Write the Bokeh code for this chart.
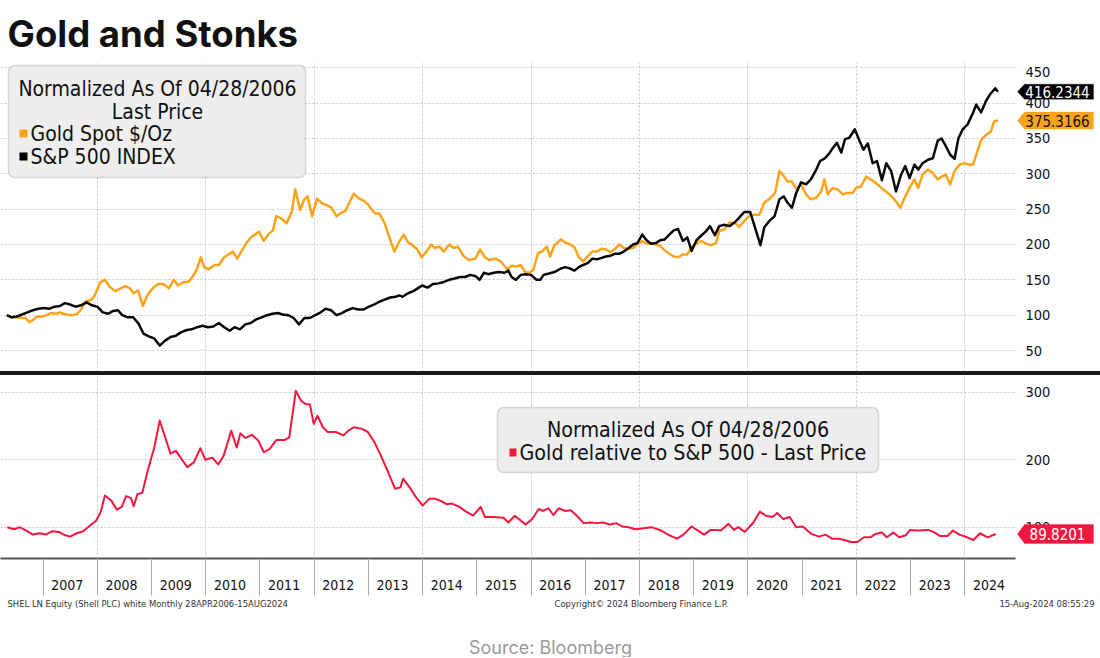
from bokeh.plotting import figure
from bokeh.models import (FixedTicker, Label, BoxAnnotation, PolyAnnotation, Range1d,
                          CustomJSTickFormatter, Spacer)
from bokeh.layouts import column
from bokeh.embed import file_html
from bokeh.resources import INLINE

# ---------------- data (normalized 04/28/2006 = 100) ----------------
gold_t = [2006.33, 2006.42, 2006.51, 2006.61, 2006.68, 2006.74, 2006.81, 2006.88, 2006.98, 2007.07,
          2007.14, 2007.24, 2007.31, 2007.37, 2007.44, 2007.54, 2007.63, 2007.70, 2007.79, 2007.87,
          2007.94, 2008.05, 2008.14, 2008.23, 2008.33, 2008.43, 2008.52, 2008.60, 2008.67, 2008.75,
          2008.84, 2008.92, 2009.02, 2009.12, 2009.22, 2009.32, 2009.41, 2009.49, 2009.59, 2009.68,
          2009.78, 2009.83, 2009.91, 2009.97, 2010.05, 2010.16, 2010.24, 2010.34, 2010.44, 2010.50,
          2010.58, 2010.67, 2010.75, 2010.83, 2010.91, 2010.98, 2011.07, 2011.16, 2011.24, 2011.30,
          2011.39, 2011.49, 2011.59, 2011.65, 2011.74, 2011.81, 2011.88, 2011.96, 2012.05, 2012.15,
          2012.25, 2012.31, 2012.41, 2012.48, 2012.58, 2012.64, 2012.73, 2012.81, 2012.91, 2013.00,
          2013.12, 2013.20, 2013.30, 2013.40, 2013.48, 2013.56, 2013.65, 2013.73, 2013.80, 2013.90,
          2013.98, 2014.07, 2014.16, 2014.22, 2014.31, 2014.39, 2014.49, 2014.57, 2014.65, 2014.75,
          2014.85, 2014.97, 2015.06, 2015.15, 2015.23, 2015.34, 2015.44, 2015.56, 2015.64, 2015.74,
          2015.81, 2015.89, 2015.97, 2016.04, 2016.13, 2016.20, 2016.29, 2016.35, 2016.43, 2016.55,
          2016.63, 2016.72, 2016.80, 2016.88, 2016.96, 2017.05, 2017.13, 2017.21, 2017.30, 2017.38,
          2017.46, 2017.55, 2017.63, 2017.71, 2017.80, 2017.88, 2017.96, 2018.05, 2018.13, 2018.21,
          2018.30, 2018.38, 2018.46, 2018.55, 2018.63, 2018.71, 2018.80, 2018.88, 2018.96, 2019.05,
          2019.13, 2019.23, 2019.32, 2019.41, 2019.47, 2019.56, 2019.66, 2019.75, 2019.84, 2019.93,
          2020.03, 2020.12, 2020.21, 2020.30, 2020.42, 2020.50, 2020.58, 2020.64, 2020.73, 2020.81,
          2020.89, 2020.98, 2021.07, 2021.16, 2021.26, 2021.35, 2021.41, 2021.47, 2021.56, 2021.65,
          2021.75, 2021.84, 2021.93, 2021.99, 2022.08, 2022.18, 2022.27, 2022.36, 2022.49, 2022.61,
          2022.70, 2022.81, 2022.90, 2022.98, 2023.07, 2023.14, 2023.22, 2023.32, 2023.41, 2023.50,
          2023.57, 2023.65, 2023.73, 2023.81, 2023.90, 2023.99, 2024.08, 2024.15, 2024.24, 2024.30,
          2024.39, 2024.48, 2024.54, 2024.61]
gold_v = [100, 97, 97, 96, 96, 90, 93, 98, 98, 100,
          103, 102, 104, 102, 101, 100, 102, 108, 120, 121,
          126, 146, 150, 140, 134, 138, 141, 138, 131, 135,
          113, 128, 138, 144, 144, 138, 150, 142, 147, 147,
          157, 164, 182, 168, 165, 171, 171, 182, 187, 190,
          180, 192, 202, 210, 214, 218, 205, 215, 220, 240,
          237, 230, 247, 278, 249, 263, 268, 240, 265, 258,
          255, 253, 240, 244, 248, 258, 272, 266, 262, 256,
          244, 244, 230, 207, 190, 203, 214, 203, 200, 193,
          182, 190, 200, 195, 197, 190, 200, 195, 197, 184,
          178, 180, 193, 182, 178, 180, 176, 165, 170, 169,
          171, 161, 160, 164, 188, 190, 197, 183, 199, 207,
          203, 200, 196, 182, 176, 184, 190, 190, 194, 193,
          189, 194, 200, 195, 194, 195, 200, 205, 201, 202,
          200, 198, 192, 187, 183, 182, 186, 186, 196, 201,
          205, 201, 199, 202, 219, 221, 231, 231, 225, 233,
          241, 242, 242, 259, 266, 273, 304, 299, 289, 289,
          279, 285, 271, 264, 266, 275, 292, 271, 280, 278,
          271, 273, 273, 280, 282, 296, 292, 287, 278, 271,
          264, 252, 268, 280, 292, 280, 299, 306, 301, 292,
          296, 299, 285, 304, 313, 315, 313, 313, 334, 348,
          355, 360, 374, 375.3166]

spx_t = [2006.33, 2006.42, 2006.51, 2006.61, 2006.71, 2006.81, 2006.91, 2007.01, 2007.11, 2007.21,
         2007.31, 2007.40, 2007.50, 2007.60, 2007.70, 2007.80, 2007.90, 2008.00, 2008.10, 2008.20,
         2008.29, 2008.38, 2008.46, 2008.56, 2008.66, 2008.76, 2008.85, 2008.95, 2009.05, 2009.15,
         2009.25, 2009.35, 2009.45, 2009.55, 2009.65, 2009.74, 2009.84, 2009.94, 2010.04, 2010.14,
         2010.24, 2010.34, 2010.44, 2010.53, 2010.63, 2010.73, 2010.83, 2010.93, 2011.03, 2011.13,
         2011.23, 2011.33, 2011.42, 2011.52, 2011.62, 2011.72, 2011.82, 2011.92, 2012.02, 2012.12,
         2012.21, 2012.31, 2012.41, 2012.51, 2012.61, 2012.71, 2012.81, 2012.91, 2013.01, 2013.10,
         2013.20, 2013.30, 2013.40, 2013.50, 2013.57, 2013.63, 2013.73, 2013.83, 2013.93, 2013.99,
         2014.09, 2014.19, 2014.29, 2014.39, 2014.49, 2014.59, 2014.69, 2014.78, 2014.88, 2014.98,
         2015.05, 2015.13, 2015.21, 2015.31, 2015.41, 2015.51, 2015.58, 2015.64, 2015.72, 2015.81,
         2015.90, 2016.00, 2016.10, 2016.17, 2016.23, 2016.33, 2016.43, 2016.55,
         2016.63, 2016.72, 2016.80, 2016.88, 2016.96, 2017.05, 2017.13, 2017.21, 2017.30, 2017.38,
         2017.46, 2017.55, 2017.63, 2017.71, 2017.80, 2017.88, 2017.96, 2018.05, 2018.13, 2018.21,
         2018.30, 2018.38, 2018.46, 2018.55, 2018.63, 2018.71, 2018.80, 2018.88, 2018.96, 2019.05,
         2019.13, 2019.23, 2019.30, 2019.39, 2019.47, 2019.56, 2019.66, 2019.75, 2019.84, 2019.93,
         2020.04, 2020.13, 2020.23, 2020.30, 2020.39, 2020.49, 2020.58, 2020.66, 2020.73, 2020.81,
         2020.89, 2020.98, 2021.07, 2021.16, 2021.26, 2021.33, 2021.42, 2021.50, 2021.56, 2021.64,
         2021.72, 2021.79, 2021.87, 2021.97, 2022.05, 2022.13, 2022.21, 2022.30, 2022.38, 2022.47,
         2022.55, 2022.64, 2022.73, 2022.82, 2022.90, 2022.98, 2023.07, 2023.14, 2023.22, 2023.32,
         2023.41, 2023.50, 2023.57, 2023.65, 2023.73, 2023.81, 2023.88, 2023.96, 2024.05, 2024.15,
         2024.21, 2024.30, 2024.39, 2024.47, 2024.56, 2024.61]
spx_v = [100, 97, 98, 101, 104, 107, 109, 110, 109, 112,
         113, 117, 115, 112, 114, 118, 114, 112, 104, 102,
         106, 107, 100, 97, 97, 88, 74, 70, 67, 57,
         64, 69, 71, 76, 79, 80, 83, 85, 83, 84,
         89, 83, 78, 83, 80, 87, 89, 94, 97, 100,
         102, 103, 101, 100, 96, 87, 96, 96, 100, 104,
         109, 107, 100, 103, 107, 110, 108, 108, 112, 115,
         119, 122, 125, 126, 128, 126, 131, 134, 139, 142,
         139, 144, 145, 147, 150, 152, 154, 154, 157, 155,
         150, 160, 158, 160, 161, 160, 163, 154, 150, 157,
         158, 157, 150, 150, 157, 159, 161, 166,
         168, 166, 163, 168, 171, 174, 180, 179, 181, 183,
         184, 187, 187, 190, 195, 200, 202, 214, 206, 201,
         202, 206, 207, 214, 220, 222, 205, 210, 191, 206,
         212, 219, 226, 213, 226, 228, 226, 231, 238, 246,
         246, 224, 199, 224, 233, 240, 264, 268, 259, 252,
         273, 288, 285, 292, 306, 318, 322, 329, 336, 344,
         330, 349, 351, 363, 348, 334, 343, 315, 318, 291,
         315, 304, 275, 298, 311, 294, 313, 306, 315, 320,
         322, 347, 350, 339, 327, 321, 350, 363, 370, 386,
         398, 387, 403, 413, 421, 416.2344]

ratio_t = [2006.34, 2006.46, 2006.57, 2006.69, 2006.81, 2006.93, 2007.05, 2007.17, 2007.29, 2007.41,
           2007.50, 2007.62, 2007.74, 2007.86, 2007.98, 2008.06, 2008.14, 2008.26, 2008.36, 2008.45,
           2008.53, 2008.62, 2008.67, 2008.74, 2008.83, 2008.93, 2009.05, 2009.15, 2009.26, 2009.35,
           2009.45, 2009.57, 2009.66, 2009.78, 2009.90, 2009.99, 2010.12, 2010.23, 2010.33, 2010.47,
           2010.57, 2010.64, 2010.73, 2010.85, 2010.97, 2011.07, 2011.18, 2011.30, 2011.45, 2011.54,
           2011.66, 2011.76, 2011.85, 2011.92, 2011.99, 2012.06, 2012.16, 2012.25, 2012.40, 2012.54,
           2012.63, 2012.73, 2012.87, 2012.99, 2013.11, 2013.23, 2013.35, 2013.49, 2013.59, 2013.64,
           2013.76, 2013.88, 2014.00, 2014.12, 2014.24, 2014.36, 2014.44, 2014.54, 2014.68, 2014.80,
           2014.93, 2015.07, 2015.15, 2015.31, 2015.49, 2015.58, 2015.70, 2015.82, 2015.90, 2016.02,
           2016.14, 2016.22, 2016.32, 2016.41, 2016.51, 2016.63, 2016.73, 2016.83, 2016.97, 2017.09,
           2017.21, 2017.33, 2017.45, 2017.57, 2017.68, 2017.80, 2017.92, 2018.04, 2018.22, 2018.40,
           2018.55, 2018.69, 2018.81, 2018.96, 2019.08, 2019.19, 2019.31, 2019.41, 2019.50, 2019.64,
           2019.74, 2019.82, 2019.94, 2020.10, 2020.22, 2020.33, 2020.45, 2020.54, 2020.65, 2020.77,
           2020.89, 2021.01, 2021.17, 2021.31, 2021.43, 2021.55, 2021.67, 2021.78, 2021.90, 2022.02,
           2022.14, 2022.26, 2022.35, 2022.47, 2022.56, 2022.68, 2022.79, 2022.91, 2022.99, 2023.15,
           2023.32, 2023.42, 2023.54, 2023.68, 2023.78, 2023.90, 2024.04, 2024.16, 2024.28, 2024.42,
           2024.57]
ratio_v = [100, 97, 100, 95, 89, 91, 89, 94, 93, 88,
           86, 91, 94, 102, 110, 122, 147, 139, 126, 130,
           146, 143, 131, 149, 151, 184, 218, 258, 231, 209,
           213, 199, 189, 196, 217, 200, 203, 193, 206, 243,
           218, 239, 232, 237, 228, 211, 216, 229, 229, 233,
           302, 287, 282, 282, 253, 265, 248, 241, 241, 236,
           243, 248, 246, 241, 226, 206, 184, 157, 159, 172,
           159, 144, 132, 142, 142, 138, 134, 135, 130, 123,
           117, 130, 115, 115, 114, 107, 117, 109, 104, 112,
           127, 124, 128, 118, 128, 124, 125, 118, 106, 107,
           106, 107, 104, 106, 101, 100, 97, 98, 100, 95,
           88, 83, 89, 101, 95, 89, 96, 96, 95, 105,
           96, 100, 93, 107, 123, 117, 115, 121, 112, 115,
           100, 101, 90, 86, 89, 83, 83, 81, 78, 78,
           85, 85, 90, 92, 85, 92, 85, 88, 96, 95,
           96, 93, 87, 87, 95, 89, 85, 81, 91, 85,
           89.8201]

year_labels = list(range(2007, 2025))          # x-axis year labels
top_ticks = [50, 100, 150, 200, 250, 300, 350, 400, 450]
bot_ticks = [100, 200, 300]
last_spx, last_gold, last_ratio = "416.2344", "375.3166", "89.8201"

# ---------------- styling / layout constants ----------------
W = 1100
FONT = "DejaVu Sans Condensed"
GOLD = "#FBA31C"
RED = "#F2173F"
GRID = "#c6c6c6"
PX_PER_YEAR = 54.22
X0 = 2006.214
X1 = X0 + W / PX_PER_YEAR
CHART_RIGHT = 1015        # pixel where gridlines / axis line stop
LABEL_X = 1025            # pixel where right-hand tick labels start
YEAR_LABEL_POS = 0.445    # year labels sit just left of mid-year

def bare(height, y_range, x_range=None, **kw):
    p = figure(width=W, height=height, output_backend="svg", toolbar_location=None,
               x_range=x_range if x_range is not None else Range1d(X0, X1),
               y_range=y_range, x_axis_location=kw.pop("x_axis_location", None),
               y_axis_location=None, min_border_left=0, min_border_right=0,
               min_border_top=0, min_border_bottom=kw.pop("min_border_bottom", 0))
    p.outline_line_color = None
    p.background_fill_color = "white"
    p.border_fill_color = "white"
    p.xgrid.visible = False
    p.ygrid.visible = False
    return p

def txt(p, x, y, s, align="left", size="21px", color="#111111", font=FONT,
        baseline="middle", y_units="screen", style="normal", y_offset=0):
    p.add_layout(Label(x=x, y=y, x_units="screen", y_units=y_units, text=s, text_font=font,
                       text_font_size=size, text_color=color, text_align=align,
                       text_baseline=baseline, text_font_style=style, y_offset=y_offset))

def box(p, l, r, b, t, fill, line=None, lw=1.5, radius=0, level="annotation"):
    p.add_layout(BoxAnnotation(left=l, right=r, bottom=b, top=t, left_units="screen",
                               right_units="screen", bottom_units="screen", top_units="screen",
                               fill_color=fill, fill_alpha=1, line_color=line, line_width=lw,
                               border_radius=radius, level=level))

def grids(p, yticks):
    p.xgrid.visible = True
    p.ygrid.visible = True
    p.xgrid.ticker = FixedTicker(ticks=list(range(2008, 2025, 2)))
    p.ygrid.ticker = FixedTicker(ticks=yticks)
    for g in (p.xgrid, p.ygrid):
        g.grid_line_color = GRID
        g.grid_line_dash = "2 2"
        g.grid_line_width = 1
    # keep the grid inside the chart area (the right strip holds labels and tags)
    box(p, CHART_RIGHT + 1, W, -5, 400, "white", level="underlay")

def ytick_labels(p, ticks, top_nudge=0):
    for t in ticks:
        txt(p, LABEL_X, t, str(t), size="14.5px", y_units="data",
            y_offset=(top_nudge if t == ticks[-1] else 0))

def tag(p, val, label, bg, fg, half_px, px_per_unit):
    dh = half_px / px_per_unit
    p.add_layout(PolyAnnotation(xs=[1017, 1024, 1093, 1093, 1024],
                                ys=[val, val + dh, val + dh, val - dh, val - dh],
                                xs_units="screen", ys_units="data",
                                fill_color=bg, fill_alpha=1, line_color=bg, line_width=1))
    p.add_layout(Label(x=1057, y=val, x_units="screen", y_units="data", text=label,
                       text_font=FONT, text_font_size="15px", text_color=fg,
                       text_align="center", text_baseline="middle"))

# ---------------- title strip ----------------
head = bare(62, Range1d(0, 1))
txt(head, 7, 29, "Gold and Stonks", size="36.5px", font="Inter", style="bold",
    baseline="alphabetic")

# ---------------- top panel ----------------
TOP_Y0, TOP_Y1 = 20.3, 457.5
top = bare(309, Range1d(TOP_Y0, TOP_Y1))
grids(top, top_ticks)
top.line(gold_t, gold_v, line_color=GOLD, line_width=2.5, line_join="round")
top.line(spx_t, spx_v, line_color="#0a0a0a", line_width=2.5, line_join="round")
ytick_labels(top, top_ticks, top_nudge=-4)

box(top, 8, 305, 194, 306, "#eeeeee", line="#8c8c8c", radius=6)
txt(top, 157, 283, "Normalized As Of 04/28/2006", align="center")
txt(top, 157, 260, "Last Price", align="center")
box(top, 19, 27, 234, 242, GOLD)
txt(top, 30, 238, "Gold Spot $/Oz")
box(top, 19, 27, 211, 219, "#000000")
txt(top, 30, 215, "S&P 500 INDEX")

top_ppu = 309 / (TOP_Y1 - TOP_Y0)
tag(top, spx_v[-1], last_spx, "#000000", "white", 7.5, top_ppu)
tag(top, gold_v[-1], last_gold, GOLD, "#111111", 8.5, top_ppu)

# ---------------- separator ----------------
bar = Spacer(width=W, height=4, styles={"background-color": "#1a1a1a"})

# ---------------- bottom panel ----------------
BOT_Y0, BOT_Y1 = 53.6, 324.7
bot = bare(223, Range1d(BOT_Y0, BOT_Y1), x_range=top.x_range,
           x_axis_location="below", min_border_bottom=40)
grids(bot, bot_ticks)
bx = bot.xaxis[0]
bx.bounds = (X0, X0 + CHART_RIGHT / PX_PER_YEAR)
bx.ticker = FixedTicker(ticks=[y + YEAR_LABEL_POS for y in year_labels], minor_ticks=year_labels)
bx.formatter = CustomJSTickFormatter(code="return Math.floor(tick).toString()")
bx.major_tick_line_color = None
bx.major_tick_out = 0
bx.major_tick_in = 0
bx.minor_tick_in = 0
bx.minor_tick_out = 37
bx.minor_tick_line_color = "#a8a8a8"
bx.minor_tick_line_width = 1
bx.axis_line_color = "#555555"
bx.axis_line_width = 2
bx.major_label_standoff = -16
bx.major_label_text_font = FONT
bx.major_label_text_font_size = "14px"
bx.major_label_text_font_style = "normal"
bx.major_label_text_color = "#111111"

bot.line(ratio_t, ratio_v, line_color=RED, line_width=2, line_join="round")
ytick_labels(bot, bot_ticks)

box(bot, 497, 878, 86, 151, "#eeeeee", line="#8c8c8c", radius=6)
txt(bot, 687.5, 129, "Normalized As Of 04/28/2006", align="center", size="21.3px")
box(bot, 509, 516, 102, 110, RED)
txt(bot, 519, 106, "Gold relative to S&P 500 - Last Price", size="21.3px")

bot_ppu = 183 / (BOT_Y1 - BOT_Y0)
tag(bot, ratio_v[-1], last_ratio, RED, "white", 9.5, bot_ppu)

# ---------------- footer ----------------
foot = bare(59, Range1d(0, 1))
txt(foot, 7, 54, "SHEL LN Equity (Shell PLC) white  Monthly 28APR2006-15AUG2024",
    size="9.4px", color="#333333")
txt(foot, 554, 54, "Copyright\u00a9 2024 Bloomberg Finance L.P.", size="9.4px", color="#333333")
txt(foot, 1094, 54, "15-Aug-2024 08:55:29", align="right", size="9.4px", color="#333333")
txt(foot, 550, 10, "Source: Bloomberg", align="center", size="18px", color="#9a9a9a",
    font="Inter", baseline="alphabetic")

layout = column(head, top, bar, bot, foot, spacing=0)
open("out.html", "w").write(file_html(layout, INLINE))
